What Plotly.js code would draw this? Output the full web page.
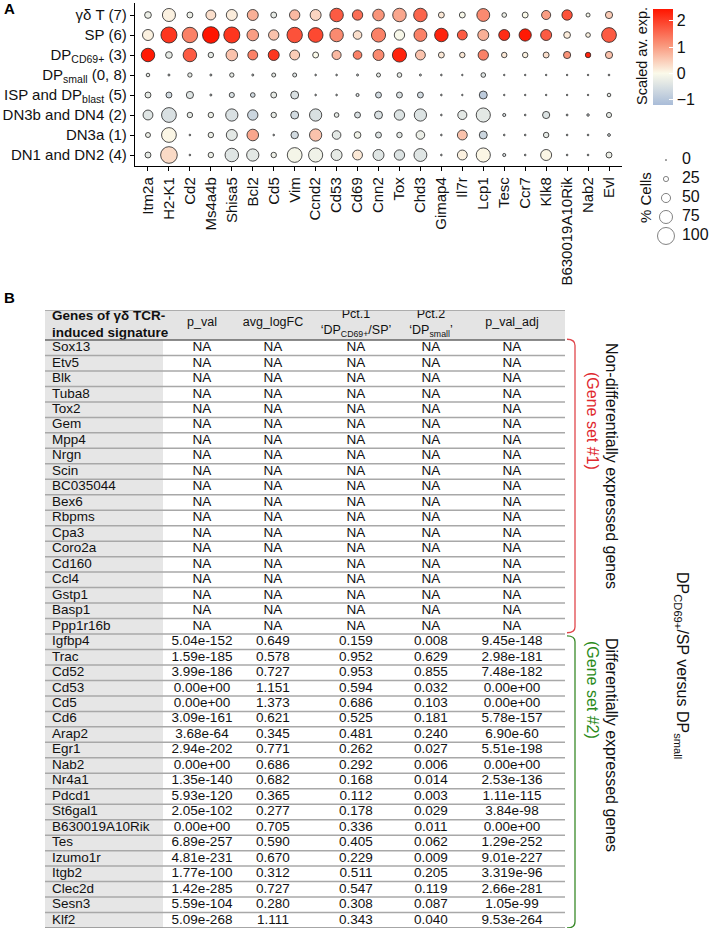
<!DOCTYPE html>
<html>
<head>
<meta charset="utf-8">
<script src="https://cdn.plot.ly/plotly-3.0.1.min.js"></script>
<style>html,body{margin:0;padding:0;background:#fff;}#chart{width:709px;height:931px;}</style>
</head>
<body>
<div id="chart"></div>
<script>
// ---------------- Panel A data ----------------
const genes = ["Itm2a","H2-K1","Cd2","Ms4a4b","Shisa5","Bcl2","Cd5","Vim","Ccnd2","Cd53","Cd69","Cnn2","Tox","Chd3","Gimap4","Il7r","Lcp1","Tesc","Ccr7","Klk8","B630019A10Rik","Nab2","Evl"];
const clusters = ["γδ T (7)","SP (6)","DP<sub>CD69+</sub> (3)","DP<sub>small</sub> (0, 8)","ISP and DP<sub>blast</sub> (5)","DN3b and DN4 (2)","DN3a (1)","DN1 and DN2 (4)"];
// percent of cells expressing (rows = clusters top to bottom, cols = genes)
const pctGdT   = [35,75,30,55,62,62,30,58,62,78,58,66,78,78,30,30,74,22,30,50,58,18,38];
const pctSP    = [62,94,90,98,94,66,58,90,86,78,47,82,58,74,78,55,62,62,70,62,35,22,86];
const pctCD69  = [78,35,78,27,66,55,62,55,30,50,47,62,82,55,30,27,58,27,27,30,38,27,38];
const pctSmall = [15,5,20,5,20,5,18,18,3,3,5,18,22,5,3,2,22,2,2,2,2,2,3];
const pctISP   = [30,30,38,5,25,22,30,43,3,3,12,30,30,30,3,2,43,2,2,2,2,2,15];
const pctDN3b  = [55,86,27,27,70,58,27,43,70,22,30,43,58,70,3,50,82,12,3,38,4,8,25];
const pctDN3a  = [24,86,3,27,62,66,3,40,70,47,35,30,27,47,3,55,43,3,3,27,3,3,10];
const pctDN1   = [30,98,3,27,78,70,27,86,82,62,55,62,58,74,3,55,82,12,3,62,3,3,30];
// scaled average expression
const expGdT   = [-0.2,0.1,-0.2,0.3,0.15,0.8,-0.3,0.7,0.4,1.7,1.5,1.1,0.9,1.6,0.2,-0.05,1.2,-0.2,0,1.0,1.8,-0.1,0.5];
const expSP    = [0.1,2.1,1.3,2.45,2.1,1.0,0.6,1.8,1.9,1.2,0.3,1.3,-0.05,1.3,2.3,1.7,0.8,2.2,2.4,1.7,0.15,0.1,1.7];
const expCD69  = [2.4,-0.3,1.7,-0.3,0.6,1.3,2.1,0.5,0,0.7,1.3,1.2,2.3,0.6,0.2,0.2,1.3,0.2,0.1,0.3,1.1,2.3,0.6];
const expSmall = [-0.3,-0.5,-0.3,-0.5,-0.3,-0.5,-0.3,-0.4,-0.5,-0.5,-0.5,-0.3,-0.3,-0.5,-0.5,-0.5,-0.4,-0.5,-0.5,-0.5,-0.5,-0.5,-0.5];
const expISP   = [-0.3,-0.6,-0.4,-0.5,-0.5,-0.6,-0.3,-0.5,-0.5,-0.5,-0.5,-0.6,-0.5,-0.6,-0.5,-0.5,-0.9,-0.5,-0.5,-0.5,-0.5,-0.5,-0.3];
const expDN3b  = [-0.4,-0.5,-0.3,-0.2,-0.5,-0.7,-0.3,-0.6,-0.5,-0.3,-0.5,-0.5,-0.45,-0.45,-0.5,-0.35,-0.35,-0.5,-0.5,-0.45,-0.5,-0.5,-0.3];
const expDN3a  = [-0.2,0.05,-0.5,-0.2,-0.35,0.9,-0.5,-0.6,0.6,-0.35,-0.15,-0.45,-0.35,-0.25,-0.5,0.6,-0.7,-0.5,-0.5,-0.3,-0.5,-0.5,-0.5];
const expDN1   = [-0.3,0.35,-0.5,-0.2,-0.4,-0.35,-0.2,-0.1,-0.15,-0.3,0.2,-0.4,-0.45,-0.4,-0.5,0.1,0.05,-0.5,-0.5,0.05,-0.5,-0.5,-0.2];
const legendPct = [0,25,50,75,100];
const colorTicks = [-1,0,1,2];

// ---------------- Panel B data ----------------
const nonDEGenes = ["Sox13","Etv5","Blk","Tuba8","Tox2","Gem","Mpp4","Nrgn","Scin","BC035044","Bex6","Rbpms","Cpa3","Coro2a","Cd160","Ccl4","Gstp1","Basp1","Ppp1r16b"];
const deGenes = ["Igfbp4","Trac","Cd52","Cd53","Cd5","Cd6","Arap2","Egr1","Nab2","Nr4a1","Pdcd1","St6gal1","B630019A10Rik","Tes","Izumo1r","Itgb2","Clec2d","Sesn3","Klf2"];
const pVal = ["5.04e-152","1.59e-185","3.99e-186","0.00e+00","0.00e+00","3.09e-161","3.68e-64","2.94e-202","0.00e+00","1.35e-140","5.93e-120","2.05e-102","0.00e+00","6.89e-257","4.81e-231","1.77e-100","1.42e-285","5.59e-104","5.09e-268"];
const avgLogFC = ["0.649","0.578","0.727","1.151","1.373","0.621","0.345","0.771","0.686","0.682","0.365","0.277","0.705","0.590","0.670","0.312","0.727","0.280","1.111"];
const pct1 = ["0.159","0.952","0.953","0.594","0.686","0.525","0.481","0.262","0.292","0.168","0.112","0.178","0.336","0.405","0.229","0.511","0.547","0.308","0.343"];
const pct2 = ["0.008","0.629","0.855","0.032","0.103","0.181","0.240","0.027","0.006","0.014","0.003","0.029","0.011","0.062","0.009","0.205","0.119","0.087","0.040"];
const pValAdj = ["9.45e-148","2.98e-181","7.48e-182","0.00e+00","0.00e+00","5.78e-157","6.90e-60","5.51e-198","0.00e+00","2.53e-136","1.11e-115","3.84e-98","0.00e+00","1.29e-252","9.01e-227","3.319e-96","2.66e-281","1.05e-99","9.53e-264"];
const headers = ["<b>Genes of γδ TCR-<br>induced signature</b>","p_val","avg_logFC","Pct.1<br>‘DP<sub>CD69+</sub>/SP’","Pct.2<br>‘DP<sub>small</sub>’","p_val_adj"];

// ---------------- helpers ----------------
const W = 709, H = 931;
const px = v => v / W;
const py = v => 1 - v / H;
const FONT = "Liberation Sans, Arial, Helvetica, sans-serif";
const NFONT = "Liberation Sans Narrow, Liberation Sans, Arial, sans-serif";
const sizeOf = p => 1.2 + 0.158 * p;

const pctRows = [pctGdT,pctSP,pctCD69,pctSmall,pctISP,pctDN3b,pctDN3a,pctDN1];
const expRows = [expGdT,expSP,expCD69,expSmall,expISP,expDN3b,expDN3a,expDN1];

const dx = [], dy = [], ds = [], dc = [];
clusters.forEach((c, r) => genes.forEach((g, k) => {
  dx.push(g); dy.push(c); ds.push(sizeOf(pctRows[r][k])); dc.push(expRows[r][k]);
}));

const colorscale = [[0,'#a9bcd8'],[0.33,'#fbfaea'],[0.62,'#f9977c'],[1,'#ff1500']];

const traces = [];
traces.push({
  type:'scatter', mode:'markers', x:dx, y:dy, xaxis:'x', yaxis:'y',
  marker:{size:ds, sizemode:'diameter', color:dc, colorscale:colorscale, cmin:-1.2, cmax:2.45,
    line:{color:'#222', width:0.8}, opacity:1,
    colorbar:{x:px(653), xanchor:'left', y:py(57), yanchor:'middle', len:96, lenmode:'pixels',
      thickness:20, outlinewidth:0, ypad:0, xpad:0, tickvals:colorTicks, ticktext:colorTicks.map(v=>v<0?'−'+Math.abs(v):String(v)),
      ticks:'inside', ticklen:4, tickcolor:'#fff', tickwidth:1,
      tickfont:{family:FONT, size:16, color:'#111'}}},
  hoverinfo:'skip', showlegend:false
});
// size legend
traces.push({
  type:'scatter', mode:'markers', x:legendPct.map(()=>0), y:legendPct, xaxis:'x2', yaxis:'y2',
  marker:{size:legendPct.map(sizeOf), color:'#fff', line:{color:'#222', width:0.8}},
  hoverinfo:'skip', showlegend:false
});
traces.push({
  type:'scatter', mode:'text', x:legendPct.map(()=>1), y:legendPct, xaxis:'x2', yaxis:'y2',
  text:legendPct.map(String), textposition:'middle right', textfont:{family:FONT, size:16, color:'#111'},
  hoverinfo:'skip', showlegend:false
});

// ---------------- table (panel B) ----------------
const allGenes = nonDEGenes.concat(deGenes);
const NA = nonDEGenes.map(()=> 'NA');
const cols = [NA.concat(pVal), NA.concat(avgLogFC), NA.concat(pct1), NA.concat(pct2), NA.concat(pValAdj)];
const colX = [157, 228, 311, 386, 467];   // column centres (table px)
const geneX = 7;
const tableW = 520, geneColW = 118, headerRows = 1.94;
const rowY = allGenes.map((g,i)=> i + 0.5);

traces.push({type:'scatter', mode:'text', x:allGenes.map(()=>geneX), y:rowY, text:allGenes,
  textposition:'middle right', textfont:{family:NFONT, size:13.5, color:'#111'}, xaxis:'x3', yaxis:'y3', hoverinfo:'skip', showlegend:false});
cols.forEach((c, j) => traces.push({type:'scatter', mode:'text', x:c.map(()=>colX[j]), y:rowY, text:c,
  textposition:'middle center', textfont:{family:NFONT, size:13.5, color:'#111'}, xaxis:'x3', yaxis:'y3', hoverinfo:'skip', showlegend:false}));
// header
traces.push({type:'scatter', mode:'text', x:[geneX], y:[-headerRows/2], text:[headers[0]], textposition:'middle right',
  textfont:{family:FONT, size:13.5, color:'#111'}, xaxis:'x3', yaxis:'y3', hoverinfo:'skip', showlegend:false});
traces.push({type:'scatter', mode:'text', x:colX, y:colX.map(()=> -headerRows/2 - 0.12), text:headers.slice(1), textposition:'middle center',
  textfont:{family:NFONT, size:12.5, color:'#111'}, xaxis:'x3', yaxis:'y3', hoverinfo:'skip', showlegend:false});

const shapes = [];
shapes.push({type:'rect', xref:'x3', yref:'y3', x0:0, x1:tableW, y0:-headerRows, y1:0, fillcolor:'#e4e4e4', line:{width:0}, layer:'below'});
shapes.push({type:'rect', xref:'x3', yref:'y3', x0:0, x1:geneColW, y0:0, y1:allGenes.length, fillcolor:'#e6e6e6', line:{width:0}, layer:'below'});
for (let i = 1; i < allGenes.length; i++) {
  shapes.push({type:'line', xref:'x3', yref:'y3', x0:0, x1:tableW, y0:i, y1:i, line:{color:'#a8a8a8', width:1.5}, layer:'below'});
}
shapes.push({type:'line', xref:'x3', yref:'y3', x0:0, x1:tableW, y0:-headerRows, y1:-headerRows, line:{color:'#777', width:1}});
shapes.push({type:'line', xref:'x3', yref:'y3', x0:0, x1:tableW, y0:0, y1:0, line:{color:'#666', width:1.5}});
shapes.push({type:'line', xref:'x3', yref:'y3', x0:0, x1:tableW, y0:allGenes.length, y1:allGenes.length, line:{color:'#888', width:1.5}});
// brackets
const bx = 530, bh = 8;
const n1 = nonDEGenes.length, n2 = allGenes.length;
shapes.push({type:'path', xref:'x3', yref:'y3', line:{color:'#e0474c', width:1.3},
  path:`M ${bx-bh} -0.05 Q ${bx} -0.05 ${bx} 0.35 L ${bx} ${n1-0.45} Q ${bx} ${n1-0.08} ${bx-bh} ${n1-0.08}`});
shapes.push({type:'path', xref:'x3', yref:'y3', line:{color:'#3a8a2a', width:1.3},
  path:`M ${bx-bh} ${n1+0.12} Q ${bx} ${n1+0.12} ${bx} ${n1+0.5} L ${bx} ${n2-0.4} Q ${bx} ${n2} ${bx-bh} ${n2}`});

const ann = (text, x, y, size, color, angle, bold) => ({
  text: bold ? '<b>'+text+'</b>' : text, x:px(x), y:py(y), xref:'paper', yref:'paper',
  xanchor:'center', yanchor:'middle', textangle:angle||0, showarrow:false,
  font:{family:FONT, size:size, color:color}
});
const annotations = [
  ann('A', 9, 8, 15, '#000', 0, true),
  ann('B', 9, 297, 15, '#000', 0, true),
  ann('Scaled av. exp.', 642, 56, 14.5, '#111', -90),
  ann('% Cells', 645, 198, 15, '#111', -90),
  ann('Non-differentially expressed genes', 612, 466, 16, '#111', 90),
  ann('(Gene set #1)', 593, 421, 16, '#e0282e', 90),
  ann('Differentially expressed genes', 612, 745, 16, '#111', 90),
  ann('(Gene set #2)', 593, 690, 16, '#2a8a1a', 90),
  ann('DP<sub>CD69+</sub>/SP versus DP<sub>small</sub>', 682, 665, 16, '#111', 90)
];

const layout = {
  width:W, height:H, margin:{l:0,r:0,t:0,b:0}, paper_bgcolor:'#fff', plot_bgcolor:'rgba(0,0,0,0)',
  showlegend:false,
  xaxis:{domain:[px(135), px(622)], anchor:'y', type:'category', categoryorder:'array', categoryarray:genes,
    range:[-0.62, 22.62], showgrid:false, zeroline:false, showline:true, linecolor:'#000', linewidth:1.2,
    ticks:'outside', ticklen:4, tickcolor:'#000', tickangle:-90, tickfont:{family:FONT, size:15, color:'#111'}, fixedrange:true},
  yaxis:{domain:[py(166), py(3)], anchor:'x', type:'category', categoryorder:'array', categoryarray:clusters.slice().reverse(),
    range:[-0.55, 7.6], showgrid:false, zeroline:false, showline:true, linecolor:'#000', linewidth:1.2,
    ticks:'outside', ticklen:4, tickcolor:'#000', tickfont:{family:FONT, size:15, color:'#111'}, fixedrange:true},
  xaxis2:{domain:[px(650), px(709)], anchor:'y2', range:[-1, 2.69], visible:false, fixedrange:true},
  yaxis2:{domain:[py(246), py(150)], anchor:'x2', range:[113.2, -13.2], visible:false, fixedrange:true},
  xaxis3:{domain:[px(45), 1], anchor:'y3', range:[0, 664], visible:false, fixedrange:true},
  yaxis3:{domain:[py(928), py(310)], anchor:'x3', range:[allGenes.length, -headerRows], visible:false, fixedrange:true},
  shapes:shapes, annotations:annotations
};

Plotly.newPlot('chart', traces, layout, {displayModeBar:false, staticPlot:true});
</script>
</body>
</html>
